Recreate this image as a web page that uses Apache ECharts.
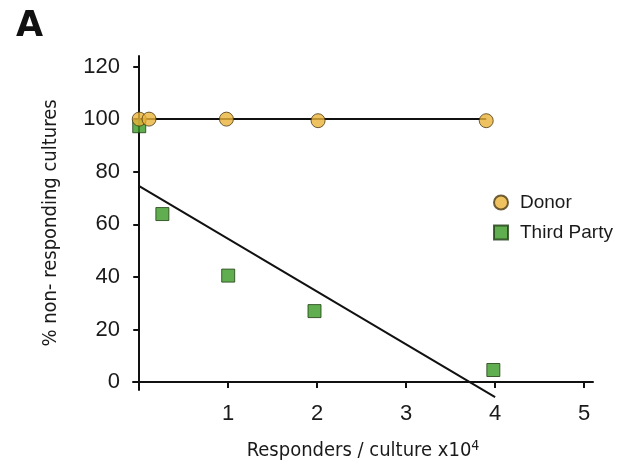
<!DOCTYPE html>
<html><head><meta charset="utf-8">
<script src="https://cdn.jsdelivr.net/npm/echarts@6/dist/echarts.min.js"></script>
<style>html,body{margin:0;padding:0;background:#fff}#c{width:621px;height:468px}</style>
</head><body><div id="c"></div>
<script>
const donorX = [0, 0.11, 0.98, 2.01, 3.9];
const donorY = [100, 100, 100, 99.4, 99.4];
const thirdX = [0, 0.26, 1.0, 1.97, 3.98];
const thirdY = [97.3, 63.9, 40.5, 27, 4.6];
const donorFitX = [0, 3.9];
const donorFitY = [100, 100];
const thirdFitX = [0, 4.0];
const thirdFitY = [74.5, -5.7];
const xTicks = [0, 1, 2, 3, 4, 5];
const xTickLabels = ['', '1', '2', '3', '4', '5'];
const yTicks = [0, 20, 40, 60, 80, 100, 120];

const zip = (a, b) => a.map((v, i) => [v, b[i]]);
const chart = echarts.init(document.getElementById('c'), null, {renderer: 'canvas'});
const labelFont = {fontFamily: 'Liberation Sans, Arial, sans-serif', fontSize: 22, color: '#1a1a1a'};
const condFam = '"DejaVu Sans", sans-serif';
chart.setOption({
  animation: false,
  backgroundColor: '#fff',
  title: {text: 'A', left: 11, top: 4, textStyle: {fontFamily: '"DejaVu Sans", sans-serif', fontSize: 35, fontWeight: 'bold', color: '#111'}},
  grid: {left: 133, right: 28, top: 56, bottom: 78, outerBoundsMode: 'none', containLabel: false},
  legend: {
    left: 488, top: 188, orient: 'vertical', itemGap: 11, itemWidth: 14, itemHeight: 14,
    textStyle: {fontFamily: 'Liberation Sans, Arial, sans-serif', fontSize: 19, color: '#1a1a1a', padding: [0, 0, 0, 7]},
    data: [{name: 'Donor', icon: 'circle'}, {name: 'Third Party', icon: 'rect'}]
  },
  xAxis: {
    type: 'value', min: -0.07, max: 5.1,
    name: 'Responders / culture x10{s|4}', nameLocation: 'middle', nameGap: 49,
    nameTextStyle: {fontFamily: condFam, fontWeight: 'normal condensed', fontSize: 20, color: '#1a1a1a',
      rich: {s: {fontFamily: condFam, fontWeight: 'normal condensed', fontSize: 14, verticalAlign: 'top', padding: [0, 0, 10, 0], color: '#1a1a1a'}}},
    axisLine: {onZero: true, lineStyle: {color: '#111', width: 2}},
    axisTick: {show: true, customValues: xTicks, length: 6, lineStyle: {color: '#111', width: 2}},
    axisLabel: {customValues: xTicks, formatter: v => xTickLabels[xTicks.indexOf(v)] ?? '', margin: 13, ...labelFont},
    splitLine: {show: false}
  },
  yAxis: {
    type: 'value', min: -3, max: 124,
    name: '% non- responding cultures', nameLocation: 'middle', nameGap: 72,
    nameTextStyle: {fontFamily: condFam, fontWeight: 'normal condensed', fontSize: 20, color: '#1a1a1a'},
    axisLine: {onZero: true, lineStyle: {color: '#111', width: 2}},
    axisTick: {show: true, customValues: yTicks, length: 6, lineStyle: {color: '#111', width: 2}},
    axisLabel: {customValues: yTicks, margin: 13, ...labelFont},
    splitLine: {show: false}
  },
  series: [
    {name: 'DonorFit', type: 'line', data: zip(donorFitX, donorFitY), symbol: 'none', clip: false,
      lineStyle: {color: '#111', width: 2}, z: 1, silent: true},
    {name: 'ThirdFit', type: 'line', data: zip(thirdFitX, thirdFitY), symbol: 'none', clip: false,
      lineStyle: {color: '#111', width: 2}, z: 1, silent: true},
    {name: 'Third Party', type: 'scatter', data: zip(thirdX, thirdY), symbol: 'rect', symbolSize: 13, clip: false,
      itemStyle: {color: '#3a9a26', borderColor: '#1f3d12', borderWidth: 1}, z: 3},
    {name: 'Donor', type: 'scatter', data: zip(donorX, donorY), symbol: 'circle', symbolSize: 14, clip: false,
      itemStyle: {color: '#ebb33a', borderColor: '#4a3a14', borderWidth: 1}, z: 4}
  ]
});
</script></body></html>
